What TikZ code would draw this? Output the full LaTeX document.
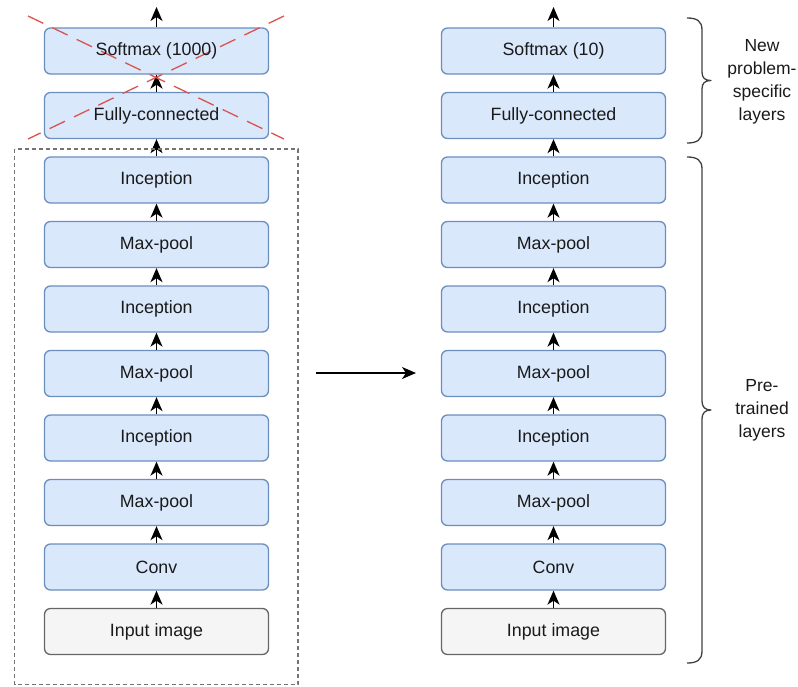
\documentclass[tikz,border=0pt]{standalone}
\usepackage{fontspec}
\setmainfont{Liberation Sans}
\usetikzlibrary{arrows.meta}
\definecolor{boxfill}{HTML}{DAE8FC}
\definecolor{boxdraw}{HTML}{6C8EBF}
\definecolor{infill}{HTML}{F5F5F5}
\definecolor{indraw}{HTML}{666666}
\definecolor{xred}{HTML}{D9534F}
\definecolor{txt}{HTML}{1A1A1A}
\tikzset{
  layertext/.style={text=txt, font=\fontsize{17.8}{21}\selectfont},
  layer/.style={layertext, draw=boxdraw, fill=boxfill, line width=1.3pt, rounded corners=6pt,
    minimum width=224pt, minimum height=46pt, inner sep=0pt},
  inbox/.style={layer, draw=indraw, fill=infill},
  arr/.style={line width=1.5pt, black, -{Stealth[length=14pt,width=12pt,inset=4pt]}},
  lbl/.style={text=txt, align=center, font=\fontsize{17.5}{23}\selectfont},
  brace/.style={line width=1.3pt, draw=black!75, line join=round}
}
\begin{document}
\begin{tikzpicture}[x=1pt,y=-1pt]
\useasboundingbox (0,0) rectangle (798,686);
\foreach \i in {0,...,8}{
  \node[layer] (l\i) at (156.5,{51+64.5*\i}) {};
  \node[layer] (r\i) at (553.5,{51+64.5*\i}) {};
}
\node[inbox] (l9) at (156.5,{51+64.5*9}) {Input image};
\node[inbox] (r9) at (553.5,{51+64.5*9}) {Input image};
% arrows
\foreach \i [evaluate=\i as \j using int(\i-1)] in {1,...,9}{
  \draw[arr] (l\i.north) -- (l\j.south);
  \draw[arr] (r\i.north) -- (r\j.south);
}
\coordinate (ltop) at (156.5,7);
\coordinate (rtop) at (553.5,7);
\draw[arr] (l0.north) -- (ltop);
\draw[arr] (r0.north) -- (rtop);
% dashed frame
\draw[line width=1.3pt, draw=black!55, dash pattern=on 4pt off 3pt] (14.5,149) rectangle (298,684.5);
% red cross
\draw[xred, line width=1.3pt, dash pattern=on 17pt off 10pt] (28,16) -- (284,139);
\draw[xred, line width=1.3pt, dash pattern=on 17pt off 10pt] (284,16) -- (28,139);
% layer texts
\foreach \n/\t in {l0/Softmax (1000),l1/Fully-connected,l2/Inception,l3/Max-pool,l4/Inception,l5/Max-pool,l6/Inception,l7/Max-pool,l8/Conv,
  r0/Softmax (10),r1/Fully-connected,r2/Inception,r3/Max-pool,r4/Inception,r5/Max-pool,r6/Inception,r7/Max-pool,r8/Conv}{
  \node[layertext] at (\n) {\t};
}
% transfer arrow
\coordinate (ha) at (316,373);
\coordinate (hb) at (416,373);
\draw[arr] (ha) -- (hb);
% braces
\draw[brace] (687,18) .. controls (697,18) and (702,21) .. (702,30)
  -- (702,72) .. controls (702,78) and (705,80.5) .. (711,80.5)
  .. controls (705,80.5) and (702,83) .. (702,89)
  -- (702,131) .. controls (702,140) and (697,143) .. (687,143);
\draw[brace] (687,157) .. controls (697,157) and (702,160) .. (702,169)
  -- (702,401) .. controls (702,407) and (705,410) .. (711,410)
  .. controls (705,410) and (702,413) .. (702,419)
  -- (702,651) .. controls (702,660) and (697,663) .. (687,663);
\node[lbl] (newlbl) at (762,82) {New\\problem-\\specific\\layers};
\node[lbl] (prelbl) at (762,410) {Pre-\\trained\\layers};
\end{tikzpicture}
\end{document}
